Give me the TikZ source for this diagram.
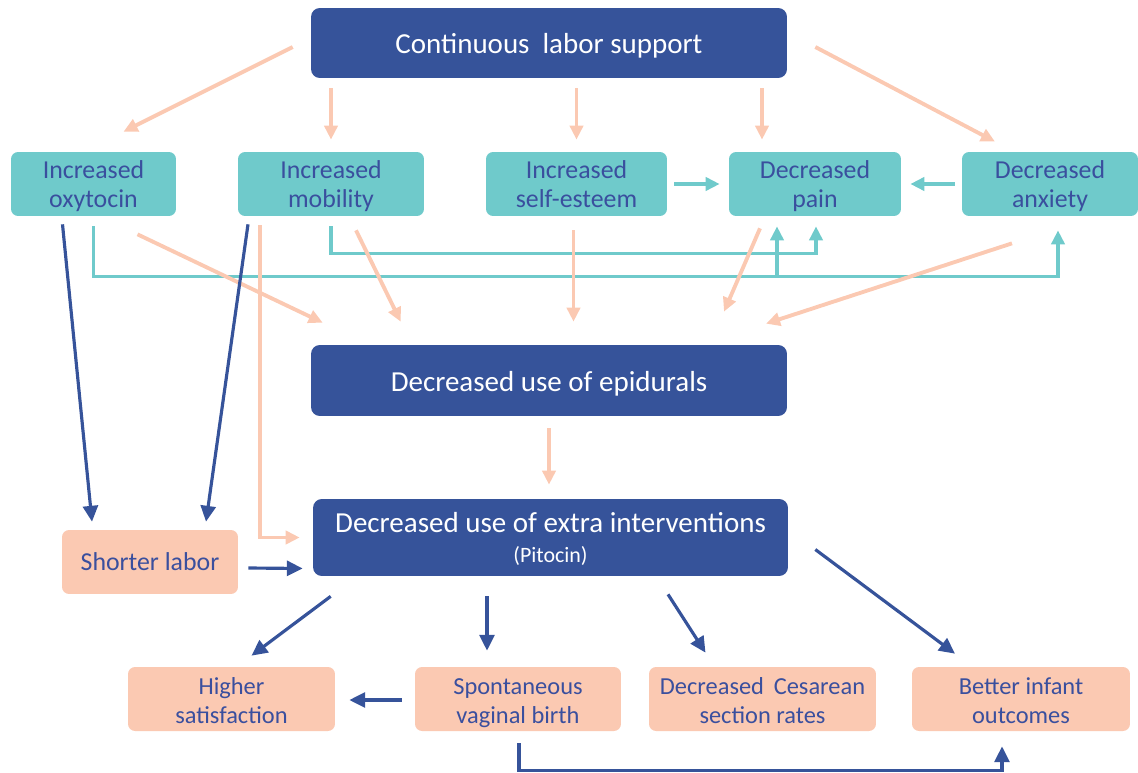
\documentclass[tikz,border=0pt]{standalone}
\usepackage{fontspec}
\setmainfont{Carlito}
\usetikzlibrary{arrows.meta}
\usetikzlibrary{calc}
\definecolor{darkblue}{HTML}{36539A}
\definecolor{tealbox}{HTML}{6FCACB}
\definecolor{salmon}{HTML}{FBC9B2}
\definecolor{textblue}{HTML}{3A4F9E}
\tikzset{
	% Three box styles: dark, teal and salmon
	dark box/.style={rectangle,rounded corners=5,fill=darkblue,text=white,inner sep=1,align=center,minimum width=9.52cm,minimum height=1.4cm,text height=12.5pt,text depth=0pt,font=\fontsize{16.5}{19.5}\selectfont},
	teal box/.style={rectangle,rounded corners=4,fill=tealbox,text=textblue,inner sep=1,align=center,minimum height=1.28cm,text depth=0pt,font=\fontsize{14.7}{17}\selectfont},
	salmon box/.style={rectangle,rounded corners=4,fill=salmon,text=textblue,inner sep=1,align=center,minimum height=1.28cm,text height=27.5pt,text depth=0pt,font=\fontsize{13.9}{16.4}\selectfont},
	% Three arrow styles, one per colour
	pink arrow/.style={draw=salmon,line width=2.2pt,-{Triangle[length=8pt,width=7.5pt]}},
	teal arrow/.style={draw=tealbox,line width=2pt,-{Triangle[length=8pt,width=7.5pt]}},
	blue arrow/.style={draw=darkblue,line width=1.8pt,-{Triangle[length=9pt,width=8.5pt]}}
}

\begin{document}
\begin{tikzpicture}[x=0.02cm,y=-0.02cm]
\useasboundingbox (0,0) rectangle (1138,773);

% top (root) box
\node(support)[dark box] at (549,43) {Continuous\hspace{.45em}labor support};

% row of teal boxes
\node(oxy)[teal box,minimum width=3.3cm] at (93.5,184) {Increased\\oxytocin};
\node(mob)[teal box,minimum width=3.72cm] at (331,184) {Increased\\mobility};
\node(esteem)[teal box,minimum width=3.62cm] at (576.5,184) {Increased\\self-esteem};
\node(pain)[teal box,minimum width=3.44cm] at (815,184) {Decreased\\pain};
\node(anx)[teal box,minimum width=3.52cm] at (1050,184) {Decreased\\anxiety};

% middle boxes
\node(epi)[dark box,minimum height=1.42cm] at (549,380.5) {Decreased use of epidurals};
\node(extra)[dark box,minimum width=9.5cm,minimum height=1.54cm,text height=] at (550.5,537.5) {Decreased use of extra interventions\\[-2.5pt]{\fontsize{12.5}{15}\selectfont(Pitocin)}};
\node(short)[salmon box,minimum width=3.52cm,text height=,text depth=,font=\fontsize{14.7}{17}\selectfont] at (150,562) {Shorter labor};

% bottom row of outcomes
\node(satis)[salmon box,minimum width=4.14cm] at (231.5,699) {Higher\\satisfaction};
\node(svb)[salmon box,minimum width=4.12cm] at (518,699) {Spontaneous\\vaginal birth};
\node(cs)[salmon box,minimum width=4.54cm] at (762.5,699) {Decreased\hspace{.4em}Cesarean\\section rates};
\node(infant)[salmon box,minimum width=4.36cm] at (1021,699) {Better infant\\outcomes};

% support -> teal row
\draw[pink arrow]($(support.west)+(-18,4)$) -- ($(oxy.north)+(30,-20)$);
\draw[pink arrow]($(support.south -| mob.north)+(0,10)$) -- ($(mob.north)+(0,-12)$);
\draw[pink arrow]($(support.south -| esteem.north)+(0,10)$) -- ($(esteem.north)+(0,-12)$);
\draw[pink arrow]($(support.south -| pain.north)+(-53,10)$) -- ($(pain.north)+(-53,-12)$);
\draw[pink arrow]($(support.east)+(28,4)$) -- ($(anx.north)+(-55,-10)$);

% into decreased pain
\draw[teal arrow]($(esteem.east)+(7,0)$) -- ($(pain.west)+(-9,0)$);
\draw[teal arrow]($(anx.west)+(-7,0)$) -- ($(pain.east)+(9,0)$);

% teal connectors below the row
\draw[teal arrow]($(oxy.south)+(0,10)$) |- ($(anx.south)+(8,60)$) -- ($(anx.south)+(8,14)$);
\draw[teal arrow]($(pain.south)+(-38,60)$) -- ($(pain.south)+(-38,10)$);
\draw[teal arrow]($(mob.south)+(0,10)$) |- ($(pain.south)+(1,37)$) -- ($(pain.south)+(1,10)$);

% teal row -> epidurals
\draw[pink arrow]($(oxy.south)+(44,18)$) -- ($(epi.north west)+(12,-22)$);
\draw[pink arrow]($(mob.south)+(25,14)$) -- ($(epi.north west)+(90,-23)$);
\draw[pink arrow]($(esteem.south)+(-3,14)$) -- ($(esteem.south |- epi.north)+(-3,-23)$);
\draw[pink arrow]($(pain.south)+(-55,12)$) -- ($(epi.north)+(175,-33)$);
\draw[pink arrow]($(anx.south)+(-38,27)$) -- ($(epi.north)+(217,-21)$);

% epidurals and mobility -> extra interventions
\draw[pink arrow]($(epi.south)+(0,12)$) -- ($(extra.north)+(-1.5,-14)$);
\draw[pink arrow]($(mob.south)+(-71,9)$) |- ($(extra.west)+(-13,0)$);

% shorter labor
\draw[blue arrow]($(oxy.south)+(-31,8)$) -- ($(short.north)+(-58,-8)$);
\draw[blue arrow]($(mob.south)+(-83,8)$) -- ($(short.north)+(56,-8)$);
\draw[blue arrow]($(short.east)+(10,6)$) -- ($(extra.west)+(-10,31)$);

% extra interventions -> outcomes
\draw[blue arrow]($(extra.south west)+(18,20)$) -- ($(satis.north)+(20,-11)$);
\draw[blue arrow]($(extra.south)+(-63.5,20)$) -- ($(svb.north)+(-31,-16)$);
\draw[blue arrow]($(extra.south)+(117.5,18)$) -- ($(cs.north)+(-57,-14)$);
\draw[blue arrow]($(extra.east)+(27,12)$) -- ($(infant.north)+(-66,-13)$);

% spontaneous vaginal birth
\draw[blue arrow]($(svb.west)+(-13,1)$) -- ($(satis.east)+(14,1)$);
\draw[blue arrow]($(svb.south)+(1,12)$) -- ($(svb.south)+(1,39)$) -| ($(infant.south)+(-19,15)$);

\end{tikzpicture}
\end{document}
